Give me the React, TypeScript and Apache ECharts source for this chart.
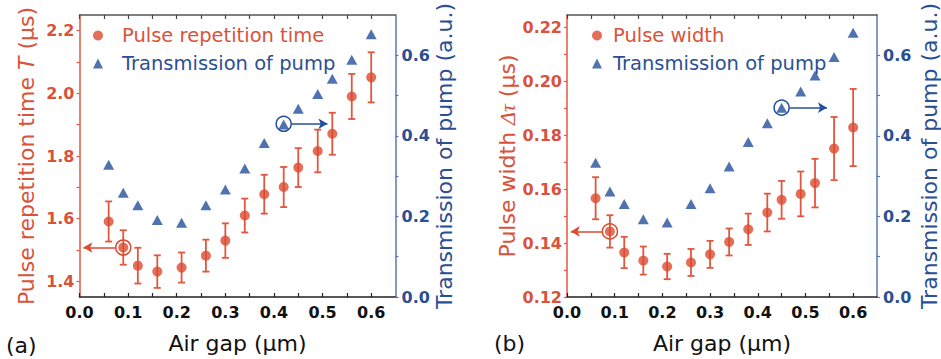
import React, { useEffect, useRef } from "react";
import * as echarts from "echarts";

// ---- data ----
const airGap = [0.06, 0.09, 0.12, 0.16, 0.21, 0.26, 0.3, 0.34, 0.38, 0.42, 0.45, 0.49, 0.52, 0.56, 0.6];
const repTime = [1.591, 1.508, 1.45, 1.431, 1.444, 1.482, 1.53, 1.61, 1.678, 1.701, 1.763, 1.816, 1.871, 1.99, 2.051];
const repTimeErr = [0.064, 0.055, 0.057, 0.052, 0.048, 0.051, 0.055, 0.054, 0.062, 0.064, 0.062, 0.068, 0.067, 0.072, 0.08];
const transA = [0.328, 0.259, 0.228, 0.191, 0.184, 0.228, 0.267, 0.319, 0.382, 0.428, 0.467, 0.504, 0.542, 0.589, 0.652];
const pulseWidth = [0.1566, 0.1443, 0.1365, 0.1335, 0.1313, 0.1328, 0.1358, 0.1404, 0.1451, 0.1513, 0.156, 0.1582, 0.1622, 0.175, 0.1828];
const pulseWidthErr = [0.0078, 0.006, 0.0058, 0.0052, 0.0047, 0.005, 0.005, 0.005, 0.0058, 0.007, 0.007, 0.0083, 0.009, 0.0117, 0.0143];
const transB = [0.333, 0.262, 0.231, 0.193, 0.185, 0.231, 0.27, 0.324, 0.385, 0.431, 0.47, 0.51, 0.55, 0.596, 0.656];

const xTicks = [0, 0.05, 0.1, 0.15, 0.2, 0.25, 0.3, 0.35, 0.4, 0.45, 0.5, 0.55, 0.6];
const xLabels = [0, 0.1, 0.2, 0.3, 0.4, 0.5, 0.6];
const aLeftTicks = [1.4, 1.5, 1.6, 1.7, 1.8, 1.9, 2.0, 2.1, 2.2];
const aLeftLabels = [1.4, 1.6, 1.8, 2.0, 2.2];
const bLeftTicks = [0.12, 0.13, 0.14, 0.15, 0.16, 0.17, 0.18, 0.19, 0.2, 0.21, 0.22];
const bLeftLabels = [0.12, 0.14, 0.16, 0.18, 0.2, 0.22];
const rightTicks = [0, 0.1, 0.2, 0.3, 0.4, 0.5, 0.6];
const rightLabels = [0, 0.2, 0.4, 0.6];

// ---- styles ----
const RED = "#dc4a30";
const RED_TXT = "#d9533b";
const RED_AXIS = "#e0573f";
const BLUE = "#24509b";
const BLUE_TXT = "#2c4f93";
const BLUE_AXIS = "#5a77b5";
const FONT = "DejaVu Sans";

function errRender(color: string) {
  return (params: any, api: any) => {
    const x = api.value(0);
    const y = api.value(1);
    const e = api.value(2);
    const t = api.coord([x, y + e]);
    const b = api.coord([x, y - e]);
    const hw = 3.5;
    const st = { stroke: color, lineWidth: 1.8 };
    return {
      type: "group",
      children: [
        { type: "line", shape: { x1: t[0], y1: t[1], x2: b[0], y2: b[1] }, style: st },
        { type: "line", shape: { x1: t[0] - hw, y1: t[1], x2: t[0] + hw, y2: t[1] }, style: st },
        { type: "line", shape: { x1: b[0] - hw, y1: b[1], x2: b[0] + hw, y2: b[1] }, style: st },
      ],
    };
  };
}

function xAxes(gridIndex: number) {
  return [
    {
      type: "value",
      gridIndex,
      min: 0,
      max: 0.65,
      position: "bottom",
      name: "Air gap (\u03bcm)",
      nameLocation: "middle",
      nameGap: 35,
      nameTextStyle: { fontFamily: FONT, fontSize: 22, color: "#111" },
      axisLine: { show: true, onZero: false, lineStyle: { color: "#222", width: 1.5 } },
      axisTick: { show: true, inside: true, length: 4, customValues: xTicks, lineStyle: { color: "#222", width: 1.2 } },
      axisLabel: {
        show: true,
        customValues: xLabels,
        margin: 7,
        fontFamily: FONT,
        fontWeight: "bold",
        fontSize: 16,
        color: "#111",
        formatter: (v: number) => v.toFixed(1),
      },
      splitLine: { show: false },
    },
    {
      type: "value",
      gridIndex,
      min: 0,
      max: 0.65,
      position: "top",
      axisLine: { show: true, onZero: false, lineStyle: { color: "#555", width: 1.5 } },
      axisTick: { show: true, inside: true, length: 4, customValues: xTicks, lineStyle: { color: "#444", width: 1.2 } },
      axisLabel: { show: false },
      splitLine: { show: false },
    },
  ];
}

function rightAxis(gridIndex: number, gap: number) {
  return {
    type: "value",
    gridIndex,
    position: "right",
    min: 0,
    max: 0.7,
    name: "Transmission of pump (a.u.)",
    nameLocation: "middle",
    nameGap: gap,
    nameTextStyle: { fontFamily: FONT, fontSize: 22, color: BLUE_TXT },
    axisLine: { show: true, onZero: false, lineStyle: { color: BLUE_AXIS, width: 1.5 } },
    axisTick: { show: true, inside: false, length: 3, customValues: rightTicks, lineStyle: { color: BLUE_AXIS, width: 1.2 } },
    axisLabel: {
      customValues: rightLabels,
      margin: 6,
      fontFamily: FONT,
      fontWeight: "bold",
      fontSize: 16,
      color: BLUE_TXT,
      formatter: (v: number) => v.toFixed(1),
    },
    splitLine: { show: false },
  };
}

function annotations(color: string, px: number, py: number, fromX: number, toX: number) {
  return {
    markPoint: {
      silent: true,
      symbol: "circle",
      symbolSize: 15,
      itemStyle: { color: "rgba(0,0,0,0)", borderColor: color, borderWidth: 1.5 },
      label: { show: false },
      data: [{ coord: [px, py] }],
    },
    markLine: {
      silent: true,
      symbol: ["none", "arrow"],
      symbolSize: [8, 9],
      lineStyle: { color, width: 1.5, type: "solid" },
      label: { show: false },
      data: [[{ coord: [fromX, py] }, { coord: [toX, py] }]],
    },
  };
}

export default function App() {
  const ref = useRef<HTMLDivElement>(null);
  useEffect(() => {
    if (!ref.current) return;
    const chart = echarts.init(ref.current, undefined, { renderer: "svg" });
    const option: any = {
      animation: false,
      backgroundColor: "#fff",
      textStyle: { fontFamily: FONT },
      grid: [
        { left: 79.5, right: 545.5, top: 15, bottom: 61, containLabel: false },
        { left: 567, right: 60.5, top: 15, bottom: 62, containLabel: false },
      ],
      legend: [
        {
          left: 88,
          top: 19,
          orient: "vertical",
          itemWidth: 10,
          itemHeight: 10,
          itemGap: 5,
          selectedMode: false,
          textStyle: { fontFamily: FONT, fontSize: 19.5, lineHeight: 23, padding: [0, 0, 0, 14] },
          data: [
            { name: "Pulse repetition time", icon: "circle", itemStyle: { color: RED }, textStyle: { color: RED_TXT } },
            { name: "Transmission of pump", icon: "triangle", itemStyle: { color: BLUE }, textStyle: { color: BLUE_TXT } },
          ],
        },
        {
          left: 587,
          top: 19,
          orient: "vertical",
          itemWidth: 10,
          itemHeight: 10,
          itemGap: 5,
          selectedMode: false,
          textStyle: { fontFamily: FONT, fontSize: 19.5, lineHeight: 23, padding: [0, 0, 0, 6] },
          data: [
            { name: "Pulse width", icon: "circle", itemStyle: { color: RED }, textStyle: { color: RED_TXT } },
            { name: "Transmission of pump", icon: "triangle", itemStyle: { color: BLUE }, textStyle: { color: BLUE_TXT } },
          ],
        },
      ],
      xAxis: [...xAxes(0), ...xAxes(1)],
      yAxis: [
        {
          type: "value",
          gridIndex: 0,
          position: "left",
          min: 1.35,
          max: 2.25,
          name: "{n|Pulse repetition time }{i|T}{n| (\u03bcs)}",
          nameLocation: "middle",
          nameGap: 42,
          nameTextStyle: {
            color: RED_TXT,
            rich: {
              n: { fontFamily: FONT, fontSize: 22, color: RED_TXT },
              i: { fontFamily: FONT, fontSize: 22, fontStyle: "italic", color: RED_TXT },
            },
          },
          axisLine: { show: true, onZero: false, lineStyle: { color: RED_AXIS, width: 1.5 } },
          axisTick: { show: true, inside: false, length: 3, customValues: aLeftTicks, lineStyle: { color: RED_AXIS, width: 1.2 } },
          axisLabel: {
            customValues: aLeftLabels,
            margin: 5,
            fontFamily: FONT,
            fontWeight: "bold",
            fontSize: 16,
            color: RED_TXT,
            formatter: (v: number) => v.toFixed(1),
          },
          splitLine: { show: false },
        },
        rightAxis(0, 38),
        {
          type: "value",
          gridIndex: 1,
          position: "left",
          min: 0.12,
          max: 0.2245,
          name: "{n|Pulse width }{g|\u0394\u03c4}{n| (\u03bcs)}",
          nameLocation: "middle",
          nameGap: 49,
          nameTextStyle: {
            color: RED_TXT,
            rich: {
              n: { fontFamily: FONT, fontSize: 22, color: RED_TXT },
              g: { fontFamily: "Liberation Serif", fontSize: 22, fontStyle: "italic", color: RED_TXT },
            },
          },
          axisLine: { show: true, onZero: false, lineStyle: { color: RED_AXIS, width: 1.5 } },
          axisTick: { show: true, inside: false, length: 3, customValues: bLeftTicks, lineStyle: { color: RED_AXIS, width: 1.2 } },
          axisLabel: {
            customValues: bLeftLabels,
            margin: 5,
            fontFamily: FONT,
            fontWeight: "bold",
            fontSize: 16,
            color: RED_TXT,
            formatter: (v: number) => v.toFixed(2),
          },
          splitLine: { show: false },
        },
        rightAxis(1, 41),
      ],
      graphic: [
        { type: "text", left: 6, top: 334, style: { text: "(a)", fontFamily: FONT, fontSize: 22, fill: "#111" } },
        { type: "text", left: 494, top: 332, style: { text: "(b)", fontFamily: FONT, fontSize: 22, fill: "#111" } },
      ],
      series: [
        {
          type: "custom",
          name: "errA",
          xAxisIndex: 0,
          yAxisIndex: 0,
          renderItem: errRender(RED_AXIS),
          data: airGap.map((x, i) => [x, repTime[i], repTimeErr[i]]),
          encode: { x: 0, y: 1 },
          z: 2,
          silent: true,
        },
        {
          type: "scatter",
          name: "Pulse repetition time",
          xAxisIndex: 0,
          yAxisIndex: 0,
          symbol: "circle",
          symbolSize: 10,
          itemStyle: { color: RED },
          data: airGap.map((x, i) => [x, repTime[i]]),
          z: 3,
          ...annotations(RED, 0.09, 1.508, 0.074, 0.008),
        },
        {
          type: "scatter",
          name: "Transmission of pump",
          xAxisIndex: 0,
          yAxisIndex: 1,
          symbol: "triangle",
          symbolSize: [11, 10],
          itemStyle: { color: BLUE },
          data: airGap.map((x, i) => [x, transA[i]]),
          z: 3,
          ...annotations(BLUE, 0.42, 0.43, 0.436, 0.51),
        },
        {
          type: "custom",
          name: "errB",
          xAxisIndex: 2,
          yAxisIndex: 2,
          renderItem: errRender(RED_AXIS),
          data: airGap.map((x, i) => [x, pulseWidth[i], pulseWidthErr[i]]),
          encode: { x: 0, y: 1 },
          z: 2,
          silent: true,
        },
        {
          type: "scatter",
          name: "Pulse width",
          xAxisIndex: 2,
          yAxisIndex: 2,
          symbol: "circle",
          symbolSize: 10,
          itemStyle: { color: RED },
          data: airGap.map((x, i) => [x, pulseWidth[i]]),
          z: 3,
          ...annotations(RED, 0.09, 0.1443, 0.074, 0.008),
        },
        {
          type: "scatter",
          name: "Transmission of pump",
          xAxisIndex: 2,
          yAxisIndex: 3,
          symbol: "triangle",
          symbolSize: [11, 10],
          itemStyle: { color: BLUE },
          data: airGap.map((x, i) => [x, transB[i]]),
          z: 3,
          ...annotations(BLUE, 0.45, 0.47, 0.466, 0.545),
        },
      ],
    };
    chart.setOption(option);
    return () => chart.dispose();
  }, []);
  return (
    <div
      ref={ref}
      style={{ position: "absolute", left: 0, top: 0, width: 941, height: 359, background: "#fff" }}
    />
  );
}
